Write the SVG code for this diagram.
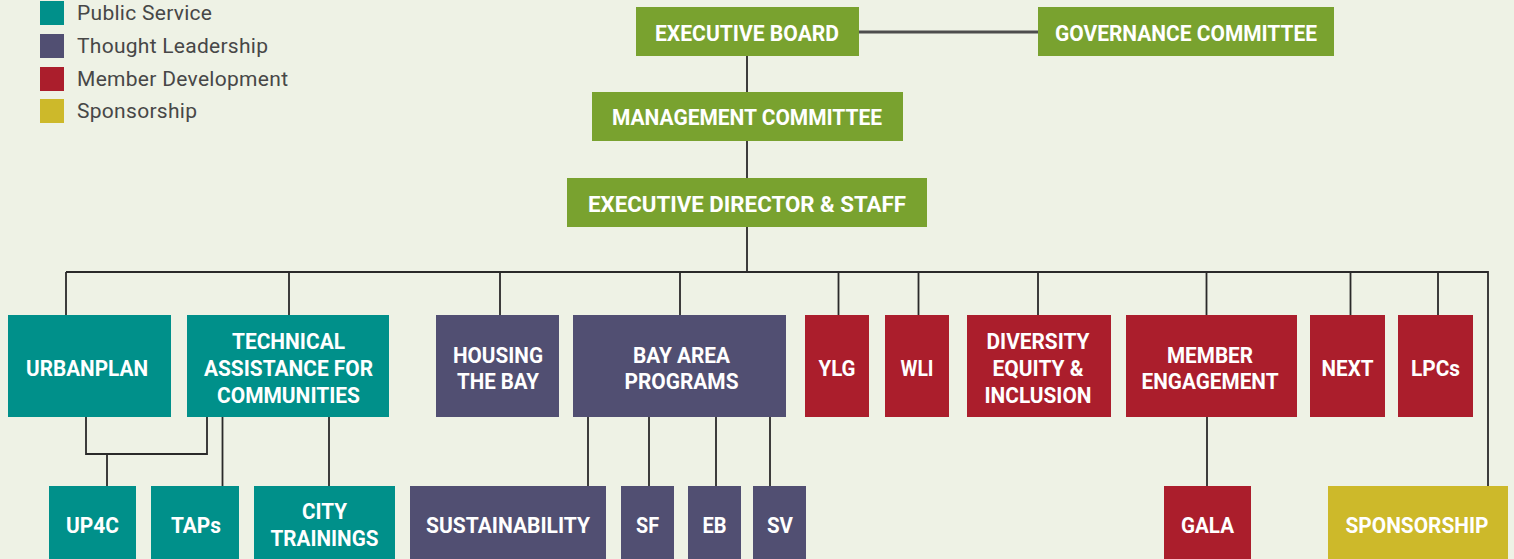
<svg xmlns="http://www.w3.org/2000/svg" width="1514" height="559" viewBox="0 0 1514 559">
  <style>
    .bg { fill: #eef2e5; }
    .gov { fill: #79a22f; }
    .ps { fill: #00908a; }
    .tl { fill: #514f72; }
    .md { fill: #ab1e2c; }
    .sp { fill: #cdb92a; }
    .lbl { font-family: Roboto, "Liberation Sans", sans-serif; font-weight: 700; font-size: 22px; fill: #ffffff; text-anchor: middle; }
    .leg { font-family: Roboto, "Liberation Sans", sans-serif; font-size: 21px; fill: #474747; }
    .wire { fill: none; stroke: #2a2a2a; stroke-width: 1.8; }
    .wire-top { fill: none; stroke: #4d4d4d; stroke-width: 3; }
  </style>

  <rect class="bg" x="0" y="0" width="1514" height="559"/>

  <!-- legend -->
  <g id="legend">
    <rect class="ps" x="40" y="1" width="24" height="24"/>
    <text class="leg" x="77" y="20" textLength="135" lengthAdjust="spacing">Public Service</text>
    <rect class="tl" x="40" y="34" width="24" height="24"/>
    <text class="leg" x="77" y="53" textLength="191" lengthAdjust="spacing">Thought Leadership</text>
    <rect class="md" x="40" y="67" width="24" height="24"/>
    <text class="leg" x="77" y="86" textLength="211" lengthAdjust="spacing">Member Development</text>
    <rect class="sp" x="40" y="99" width="24" height="24"/>
    <text class="leg" x="77" y="118" textLength="120" lengthAdjust="spacing">Sponsorship</text>
  </g>

  <!-- connectors -->
  <g id="connectors">
    <path class="wire-top" d="M859 32 H1038"/>
    <path class="wire" d="M747 56 V92 M747 141 V178 M747 227 V272"/>
    <path class="wire" d="M66 272 H1488 V486"/>
    <path class="wire" d="M66 272 V315 M289 272 V315 M500 272 V315 M680 272 V315 M838.5 272 V315 M918.5 272 V315 M1038 272 V315 M1206.5 272 V315 M1350.5 272 V315 M1438 272 V315"/>
    <path class="wire" d="M86 417 V454 H207 V417 M107 454 V486"/>
    <path class="wire" d="M222.5 417 V486 M329 417 V486"/>
    <path class="wire" d="M588 417 V486 M649 417 V486 M716 417 V486 M770 417 V486"/>
    <path class="wire" d="M1207 417 V486"/>
  </g>

  <!-- governance -->
  <g id="executive-board">
    <rect class="gov" x="636" y="7" width="223" height="49"/>
    <text class="lbl" x="747" y="41" textLength="184" lengthAdjust="spacingAndGlyphs">EXECUTIVE BOARD</text>
  </g>
  <g id="governance-committee">
    <rect class="gov" x="1038" y="7" width="296" height="49"/>
    <text class="lbl" x="1186" y="41" textLength="262" lengthAdjust="spacingAndGlyphs">GOVERNANCE COMMITTEE</text>
  </g>
  <g id="management-committee">
    <rect class="gov" x="592" y="92" width="311" height="49"/>
    <text class="lbl" x="747" y="125" textLength="270" lengthAdjust="spacingAndGlyphs">MANAGEMENT COMMITTEE</text>
  </g>
  <g id="executive-director">
    <rect class="gov" x="567" y="178" width="360" height="49"/>
    <text class="lbl" x="747" y="212" textLength="318" lengthAdjust="spacingAndGlyphs">EXECUTIVE DIRECTOR &amp; STAFF</text>
  </g>

  <!-- public service -->
  <g id="urbanplan">
    <rect class="ps" x="8" y="315" width="163" height="102"/>
    <text class="lbl" x="87" y="376" textLength="122" lengthAdjust="spacingAndGlyphs">URBANPLAN</text>
  </g>
  <g id="technical-assistance">
    <rect class="ps" x="187" y="315" width="202" height="102"/>
    <text class="lbl" x="288.5" y="349.3" textLength="113" lengthAdjust="spacingAndGlyphs">TECHNICAL</text>
    <text class="lbl" x="288.5" y="376" textLength="169" lengthAdjust="spacingAndGlyphs">ASSISTANCE FOR</text>
    <text class="lbl" x="288.5" y="402.7" textLength="143" lengthAdjust="spacingAndGlyphs">COMMUNITIES</text>
  </g>
  <g id="up4c">
    <rect class="ps" x="49" y="486" width="87" height="74"/>
    <text class="lbl" x="92.5" y="533" textLength="53" lengthAdjust="spacingAndGlyphs">UP4C</text>
  </g>
  <g id="taps">
    <rect class="ps" x="151" y="486" width="88" height="74"/>
    <text class="lbl" x="196" y="533" textLength="50" lengthAdjust="spacingAndGlyphs">TAPs</text>
  </g>
  <g id="city-trainings">
    <rect class="ps" x="254" y="486" width="141" height="74"/>
    <text class="lbl" x="324.5" y="519.3" textLength="45" lengthAdjust="spacingAndGlyphs">CITY</text>
    <text class="lbl" x="324.5" y="546" textLength="108" lengthAdjust="spacingAndGlyphs">TRAININGS</text>
  </g>

  <!-- thought leadership -->
  <g id="housing-the-bay">
    <rect class="tl" x="436" y="315" width="123" height="102"/>
    <text class="lbl" x="498" y="362.7" textLength="90" lengthAdjust="spacingAndGlyphs">HOUSING</text>
    <text class="lbl" x="498" y="389.3" textLength="82" lengthAdjust="spacingAndGlyphs">THE BAY</text>
  </g>
  <g id="bay-area-programs">
    <rect class="tl" x="573" y="315" width="213" height="102"/>
    <text class="lbl" x="681.5" y="362.7" textLength="97" lengthAdjust="spacingAndGlyphs">BAY AREA</text>
    <text class="lbl" x="681.5" y="389.3" textLength="114" lengthAdjust="spacingAndGlyphs">PROGRAMS</text>
  </g>
  <g id="sustainability">
    <rect class="tl" x="410" y="486" width="196" height="74"/>
    <text class="lbl" x="508" y="533" textLength="164" lengthAdjust="spacingAndGlyphs">SUSTAINABILITY</text>
  </g>
  <g id="sf">
    <rect class="tl" x="621" y="486" width="53" height="74"/>
    <text class="lbl" x="647.5" y="533" textLength="23" lengthAdjust="spacingAndGlyphs">SF</text>
  </g>
  <g id="eb">
    <rect class="tl" x="688" y="486" width="53" height="74"/>
    <text class="lbl" x="714.5" y="533" textLength="24" lengthAdjust="spacingAndGlyphs">EB</text>
  </g>
  <g id="sv">
    <rect class="tl" x="753" y="486" width="53" height="74"/>
    <text class="lbl" x="780" y="533" textLength="26" lengthAdjust="spacingAndGlyphs">SV</text>
  </g>

  <!-- member development -->
  <g id="ylg">
    <rect class="md" x="805" y="315" width="64" height="102"/>
    <text class="lbl" x="837" y="376" textLength="37" lengthAdjust="spacingAndGlyphs">YLG</text>
  </g>
  <g id="wli">
    <rect class="md" x="885" y="315" width="64" height="102"/>
    <text class="lbl" x="917" y="376" textLength="33" lengthAdjust="spacingAndGlyphs">WLI</text>
  </g>
  <g id="diversity-equity-inclusion">
    <rect class="md" x="967" y="315" width="144" height="102"/>
    <text class="lbl" x="1038" y="349.3" textLength="103" lengthAdjust="spacingAndGlyphs">DIVERSITY</text>
    <text class="lbl" x="1038" y="376" textLength="91" lengthAdjust="spacingAndGlyphs">EQUITY &amp;</text>
    <text class="lbl" x="1038" y="402.7" textLength="107" lengthAdjust="spacingAndGlyphs">INCLUSION</text>
  </g>
  <g id="member-engagement">
    <rect class="md" x="1126" y="315" width="171" height="102"/>
    <text class="lbl" x="1210" y="362.7" textLength="86" lengthAdjust="spacingAndGlyphs">MEMBER</text>
    <text class="lbl" x="1210" y="389.3" textLength="137" lengthAdjust="spacingAndGlyphs">ENGAGEMENT</text>
  </g>
  <g id="next">
    <rect class="md" x="1310" y="315" width="75" height="102"/>
    <text class="lbl" x="1347.5" y="376" textLength="52" lengthAdjust="spacingAndGlyphs">NEXT</text>
  </g>
  <g id="lpcs">
    <rect class="md" x="1398" y="315" width="75" height="102"/>
    <text class="lbl" x="1435.5" y="376" textLength="49" lengthAdjust="spacingAndGlyphs">LPCs</text>
  </g>
  <g id="gala">
    <rect class="md" x="1164" y="486" width="87" height="74"/>
    <text class="lbl" x="1207.5" y="533" textLength="53" lengthAdjust="spacingAndGlyphs">GALA</text>
  </g>

  <!-- sponsorship -->
  <g id="sponsorship">
    <rect class="sp" x="1328" y="486" width="180" height="74"/>
    <text class="lbl" x="1417" y="533" textLength="143" lengthAdjust="spacingAndGlyphs">SPONSORSHIP</text>
  </g>
</svg>
